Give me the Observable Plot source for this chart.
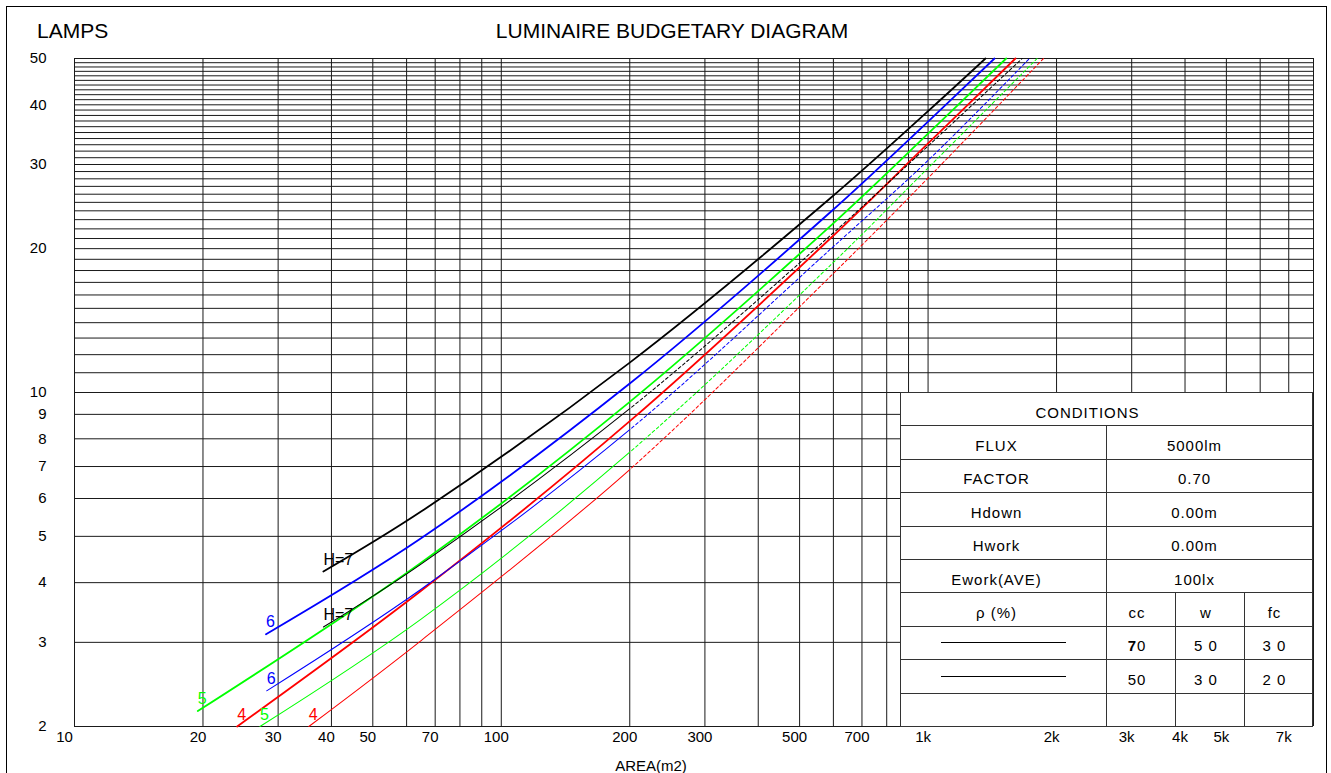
<!DOCTYPE html>
<html><head><meta charset="utf-8">
<script src="https://cdn.jsdelivr.net/npm/d3@7"></script>
<script src="https://cdn.jsdelivr.net/npm/@observablehq/plot@0.6"></script>
<style>
html,body{margin:0;padding:0;overflow:hidden;background:#fff;width:1331px;height:773px}
#wrap{position:relative;width:1331px;height:773px;font-family:"Liberation Sans",Arial,sans-serif;color:#000;overflow:hidden}
#chart svg{position:absolute;left:0;top:0}
.frame{position:absolute;left:6px;top:6px;width:1321px;height:900px;border:1px solid #000;box-sizing:border-box;pointer-events:none}
.t{position:absolute;white-space:nowrap;line-height:1}
#tbl{position:absolute;left:900px;top:392px;display:grid;grid-template-columns:206px 69px 69px 68px;grid-template-rows:repeat(10,33.4px);background:#fff;border-left:1px solid #333;border-top:1px solid #333;z-index:2}
#tbl .c{box-sizing:border-box;border-right:1px solid #333;border-bottom:1px solid #333;display:flex;align-items:center;justify-content:center;font-size:15px;letter-spacing:1px;line-height:1;padding-top:6px;white-space:pre}
#tbl .l{padding-right:14px}
#tbl .v{padding-right:30px}
#tbl .s{padding-right:8px}
#tbl .leg{padding-top:0}
#tbl .leg span{display:block;width:125px;border-top:1px solid #000}
</style></head>
<body>
<div id="wrap">
  <div id="chart"></div>
  <div class="t" style="left:37px;top:20px;font-size:21px">LAMPS</div>
  <div class="t" style="left:672px;top:20px;font-size:21px;transform:translateX(-50%)">LUMINAIRE BUDGETARY DIAGRAM</div>
  <div class="t" style="left:651px;top:758px;font-size:15px;transform:translateX(-50%)">AREA(m2)</div>
  <div id="tbl">
    <div class="c" style="grid-column:span 4;padding-right:38px">CONDITIONS</div>
    <div class="c l">FLUX</div><div class="c v" style="grid-column:span 3">5000lm</div>
    <div class="c l">FACTOR</div><div class="c v" style="grid-column:span 3">0.70</div>
    <div class="c l">Hdown</div><div class="c v" style="grid-column:span 3">0.00m</div>
    <div class="c l">Hwork</div><div class="c v" style="grid-column:span 3">0.00m</div>
    <div class="c l">Ework(AVE)</div><div class="c v" style="grid-column:span 3">100lx</div>
    <div class="c l">ρ (%)</div><div class="c s">cc</div><div class="c s">w</div><div class="c s">fc</div>
    <div class="c leg"><span></span></div><div class="c s"><b>7</b>0</div><div class="c s">5 0</div><div class="c s">3 0</div>
    <div class="c leg"><span></span></div><div class="c s">50</div><div class="c s">3 0</div><div class="c s">2 0</div>
    <div class="c"></div><div class="c"></div><div class="c"></div><div class="c"></div>
  </div>
  <div class="frame"></div>
</div>
<script>
// Axis ticks
const xTickValues = [10, 20, 30, 40, 50, 70, 100, 200, 300, 500, 700, 1000, 2000, 3000, 4000, 5000, 7000];
const xTickLabels = ["10", "20", "30", "40", "50", "70", "100", "200", "300", "500", "700", "1k", "2k", "3k", "4k", "5k", "7k"];
const yTickValues = [2, 3, 4, 5, 6, 7, 8, 9, 10, 20, 30, 40, 50];

// Reflectance 70/50/30 (thick solid curves)
const areaH7a = [38.3, 65, 200, 590, 1000, 1363];
const lampsH7a = [4.22, 5.64, 11.55, 25.5, 38.8, 50];
const areaH6a = [28.1, 65, 200, 590, 1000, 1431];
const lampsH6a = [3.12, 4.96, 10.44, 23.84, 36.9, 50];
const areaH5a = [19.45, 65, 200, 590, 1000, 1524];
const lampsH5a = [2.155, 4.41, 9.56, 22.3, 34.8, 50];
const areaH4a = [24.05, 65, 200, 590, 1000, 1602];
const lampsH4a = [2.0, 3.85, 8.71, 21.0, 33.2, 50];

// Reflectance 50/30/20 (thin curves, solid then dashed)
const areaH7b = [38.3, 65, 200, 590, 1000, 1662];
const lampsH7b = [3.23, 4.38, 9.25, 21.3, 32.8, 50];
const areaH6b = [28.2, 65, 200, 590, 1000, 1728];
const lampsH6b = [2.375, 3.88, 8.36, 19.93, 30.6, 50];
const areaH5b = [27.2, 65, 200, 590, 1000, 1801];
const lampsH5b = [2.0, 3.36, 7.5, 18.45, 29.5, 50];
const areaH4b = [35.4, 65, 200, 590, 1000, 1864];
const lampsH4b = [2.0, 3.03, 6.9, 17.49, 28.1, 50];

const seriesLabels = ["H=7", "6", "5", "4", "H=7", "6", "5", "4"];
const seriesColors = ["#000000", "#0000ff", "#00ff00", "#ff0000", "#000000", "#0000ff", "#00ff00", "#ff0000"];
const dashFromArea = 200;

const seriesDefs = [
  [areaH7a, lampsH7a, true], [areaH6a, lampsH6a, true], [areaH5a, lampsH5a, true], [areaH4a, lampsH4a, true],
  [areaH7b, lampsH7b, false], [areaH6b, lampsH6b, false], [areaH5b, lampsH5b, false], [areaH4b, lampsH4b, false]
];
const series = seriesDefs.map(([a, l, thick], i) => ({
  label: seriesLabels[i], color: seriesColors[i], thick,
  pts: a.map((v, j) => ({area: v, lamps: l[j]}))
}));

const xGrid = [...d3.range(10, 100, 10), ...d3.range(100, 1000, 100), ...d3.range(1000, 8001, 1000)];
const yGrid = d3.range(2, 51, 1);

const THIN = 1.01;
const lineMarks = series.map(s => Plot.line(s.pts, {
  x: "area", y: "lamps", stroke: s.color,
  strokeWidth: s.thick ? 1.8 : THIN,
  curve: "catmull-rom"
}));
const labelData = series.map(s => ({...s.pts[0], text: s.label, color: s.color}));

const chart = Plot.plot({
  width: 1331, height: 773,
  marginLeft: 74, marginRight: 18, marginTop: 58, marginBottom: 47,
  x: {type: "log", domain: [10, 8000], axis: null},
  y: {type: "log", domain: [2, 50]},
  style: {fontFamily: "'Liberation Sans', Arial, sans-serif", fontSize: "15px", background: "transparent", color: "#000"},
  marks: [
    Plot.ruleX(xGrid, {x: d => d, stroke: "#1a1a1a", strokeWidth: 1}),
    Plot.ruleY(yGrid, {y: d => d, stroke: "#1a1a1a", strokeWidth: 1}),
    ...lineMarks,
    Plot.text(labelData, {x: "area", y: "lamps", text: "text", fill: d => d.color, textAnchor: "start", dy: -12, fontSize: 16}),
    Plot.text(xTickValues.slice(1), {x: d => d, text: (d, i) => xTickLabels[i + 1], frameAnchor: "bottom", dy: 15, dx: -5}),
    Plot.text([xTickValues[0]], {x: d => d, text: () => xTickLabels[0], frameAnchor: "bottom", dy: 15, dx: -10}),
    Plot.axisY(yTickValues, {tickFormat: d => String(d), tickSize: 0, tickPadding: 28, label: null})
  ]
});
document.getElementById("chart").appendChild(chart);

// Thin curves: solid up to dashFromArea, dashed beyond
const xSplit = chart.scale("x").apply(dashFromArea);
chart.querySelectorAll(`g[stroke-width="${THIN}"] path`).forEach(p => {
  const total = p.getTotalLength();
  let lo = 0, hi = total;
  for (let i = 0; i < 40; i++) {
    const mid = (lo + hi) / 2;
    if (p.getPointAtLength(mid).x < xSplit) lo = mid; else hi = mid;
  }
  const parts = [lo.toFixed(2)];
  for (let l = lo; l < total + 20; l += 5.5) parts.push(2.5, 3);
  p.setAttribute("stroke-dasharray", parts.join(","));
});
</script>
</body></html>
